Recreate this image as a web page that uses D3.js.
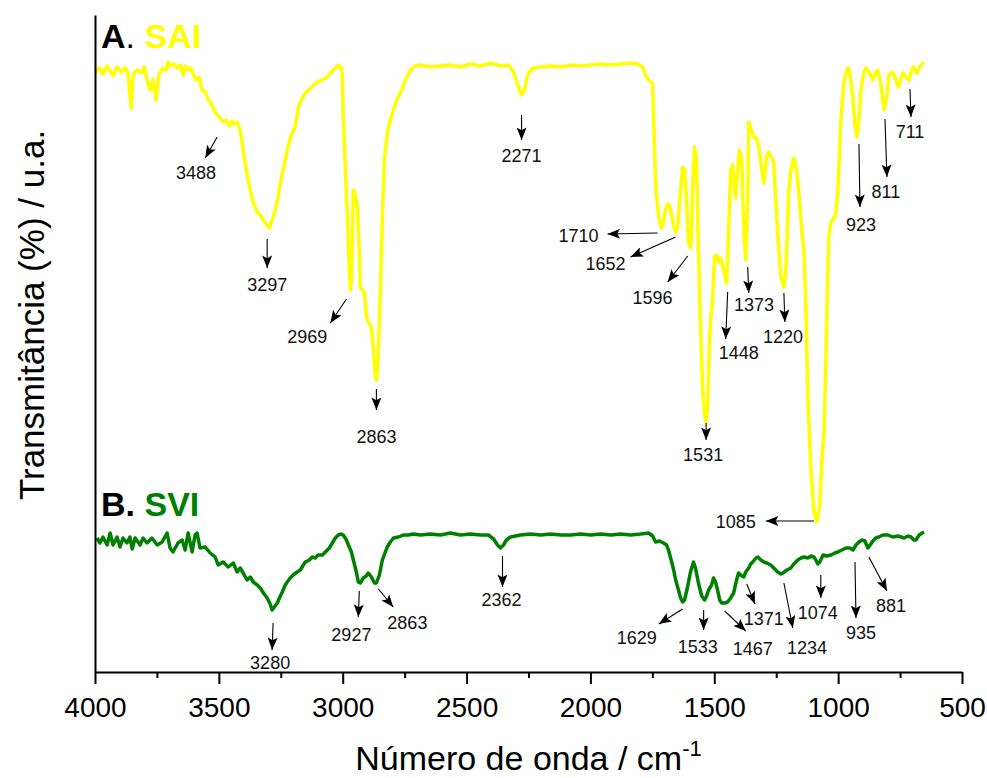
<!DOCTYPE html>
<html>
<head>
<meta charset="utf-8">
<script src="https://cdn.jsdelivr.net/npm/d3@7"></script>
<style>
  body { margin: 0; background: #fff; }
  svg { display: block; font-family: "Liberation Sans", Arial, sans-serif; }
</style>
</head>
<body>
<div id="chart"></div>
<script>
// FTIR spectra, wavenumber (cm-1) vs transmittance (a.u., offset)
var saiWn = [4000,3984,3968,3952,3935,3927,3911,3895,3879,3867,3854,3846,3830,3814,3802,3790,3778,3766,3753,3745,
  3737,3725,3713,3705,3693,3681,3669,3656,3644,3636,3624,3612,3604,3592,3580,3568,3555,3543,3531,3519,
  3507,3495,3483,3471,3458,3446,3438,3426,3414,3402,3382,3361,3345,3333,3321,3309,3297,3285,3272,3260,
  3252,3236,3224,3208,3192,3179,3163,3151,3131,3103,3082,3062,3046,3030,3018,3006,3002,2998,2989,2981,
  2973,2969,2965,2957,2949,2941,2933,2929,2921,2913,2905,2897,2884,2876,2868,2863,2856,2848,2840,2832,
  2820,2808,2795,2779,2767,2747,2727,2707,2686,2646,2606,2565,2525,2484,2444,2403,2363,2331,2310,2294,
  2278,2266,2254,2234,2201,2161,2120,2080,2040,1999,1959,1918,1878,1838,1809,1789,1777,1761,1749,1745,
  1741,1737,1729,1721,1713,1705,1697,1688,1680,1672,1664,1656,1648,1636,1628,1620,1612,1604,1596,1592,
  1588,1580,1572,1564,1555,1547,1539,1533,1527,1519,1515,1507,1499,1491,1483,1475,1467,1450,1442,1434,
  1426,1418,1414,1406,1398,1389,1381,1373,1365,1361,1353,1341,1329,1320,1308,1300,1288,1280,1268,1260,
  1252,1240,1232,1219,1211,1199,1191,1179,1167,1159,1147,1138,1130,1122,1110,1098,1086,1074,1066,1057,
  1049,1041,1037,1029,1021,1009,1001,997,989,977,965,957,949,940,932,924,916,908,896,888,
  876,860,848,840,827,815,803,795,779,766,758,746,738,726,714,706,698,690,682,673,
  665,653];
var saiT = [60.0,60.4,59.8,60.6,60.0,59.6,60.5,60.0,60.4,59.9,56.4,59.8,60.2,59.9,60.5,59.3,58.2,59.2,57.2,59.4,
  60.0,60.4,60.2,61.0,60.6,60.8,60.4,60.7,59.7,60.6,60.2,60.4,59.8,59.2,59.5,58.2,58.0,57.2,56.9,56.2,
  55.7,55.4,55.0,55.2,54.6,55.1,54.8,55.0,54.2,52.2,49.2,46.9,46.0,45.7,45.2,44.8,44.4,45.2,46.2,47.7,
  48.9,50.7,52.2,53.7,54.5,56.5,57.4,57.9,58.4,59.0,59.2,59.5,60.0,60.4,60.7,60.4,59.9,55.5,50.2,45.5,
  40.2,38.2,39.2,48.2,47.7,46.5,42.2,38.5,38.2,38.0,35.7,35.0,34.5,32.2,29.4,29.2,32.2,38.2,45.5,51.2,
  53.9,55.2,56.2,57.4,57.9,59.2,60.2,60.6,60.7,60.5,60.6,60.7,60.5,60.8,60.6,60.9,60.6,60.7,60.0,58.7,
  57.7,58.2,59.7,60.4,60.5,60.6,60.5,60.7,60.6,60.7,60.8,60.7,60.8,60.9,60.8,60.5,59.6,59.1,58.8,55.5,
  52.2,48.9,46.5,45.0,44.4,45.0,46.2,46.8,46.6,45.7,44.6,44.0,44.4,48.2,50.5,50.2,47.2,43.0,42.4,43.6,
  48.2,52.5,51.2,42.2,34.2,28.2,25.7,25.0,26.7,33.2,35.2,37.2,41.5,41.7,41.0,41.4,40.7,38.9,44.2,50.2,
  50.7,48.2,47.4,50.2,52.2,51.2,44.2,41.2,47.2,55.0,54.4,53.5,53.4,52.5,50.2,48.9,51.7,52.0,51.4,50.9,
  47.2,42.5,39.7,38.5,40.2,48.2,50.2,51.4,50.2,47.9,44.2,42.2,36.2,27.2,20.2,16.2,15.0,16.7,21.2,23.9,
  31.7,40.7,43.7,45.0,45.2,45.9,48.2,50.5,55.2,58.9,60.2,60.4,59.2,57.2,54.7,53.5,55.2,58.2,60.0,60.4,
  60.0,59.2,60.0,60.2,58.7,56.2,57.7,59.7,60.0,59.2,58.5,59.4,59.9,59.5,59.2,60.0,60.5,60.2,59.9,60.4,
  60.7,61.0];

var sviWn = [3992,3980,3968,3951,3939,3927,3911,3899,3887,3871,3859,3850,3838,3818,3806,3790,3770,3749,3729,3709,
  3697,3685,3665,3648,3636,3624,3608,3596,3588,3576,3555,3535,3515,3503,3483,3462,3442,3426,3414,3402,
  3386,3373,3361,3345,3333,3317,3305,3293,3285,3276,3264,3252,3244,3232,3224,3212,3200,3184,3171,3159,
  3151,3135,3123,3111,3099,3082,3070,3054,3042,3030,3018,3006,2998,2985,2977,2965,2957,2945,2937,2929,
  2917,2905,2897,2884,2872,2864,2852,2840,2828,2820,2808,2795,2775,2755,2735,2715,2686,2646,2606,2565,
  2525,2484,2444,2412,2391,2375,2363,2351,2339,2323,2282,2242,2201,2161,2120,2080,2040,1999,1959,1918,
  1878,1838,1797,1765,1749,1737,1721,1705,1693,1685,1672,1664,1656,1648,1636,1628,1620,1608,1596,1584,
  1576,1564,1551,1539,1531,1523,1511,1503,1495,1487,1478,1470,1458,1446,1434,1422,1410,1402,1389,1381,
  1373,1361,1353,1345,1332,1324,1312,1300,1288,1272,1260,1244,1231,1223,1207,1191,1179,1163,1150,1138,
  1122,1110,1098,1090,1082,1074,1061,1045,1029,1013,1001,985,969,953,940,928,916,904,892,880,
  868,860,848,836,819,799,779,758,746,734,718,706,694,686,673,661,653];
var sviT = [13.4,12.9,13.5,12.7,13.9,12.7,13.5,12.5,13.4,12.9,13.5,12.3,13.4,12.7,13.4,12.9,13.4,12.7,13.0,13.9,
  12.4,12.0,12.9,13.2,12.2,13.9,12.0,13.7,13.9,12.4,12.5,11.9,11.5,10.7,11.0,10.5,10.9,10.0,10.4,9.9,
  9.2,9.5,9.0,8.7,8.4,7.8,7.4,6.8,6.2,6.5,6.9,7.6,8.0,8.7,9.0,9.4,9.7,10.0,10.2,10.7,
  11.0,11.2,11.5,11.4,11.7,11.7,12.0,12.4,12.9,13.4,13.7,13.8,13.7,13.2,12.7,12.0,11.2,10.0,9.0,8.9,
  9.4,9.6,9.9,9.5,8.9,8.9,9.7,11.2,12.0,12.5,13.0,13.4,13.5,13.7,13.7,13.8,13.7,13.8,13.7,13.9,
  13.7,13.8,13.7,13.7,13.3,12.7,12.4,12.7,13.2,13.5,13.7,13.8,13.7,13.8,13.7,13.7,13.8,13.7,13.8,13.7,
  13.8,13.7,13.8,13.9,13.6,13.0,13.1,12.9,12.7,12.2,11.0,10.2,9.2,8.5,7.4,7.0,7.2,8.5,10.0,11.0,
  10.4,8.9,7.6,7.2,7.6,8.2,8.7,9.4,9.0,8.2,7.2,6.9,6.9,7.0,7.4,7.9,9.2,9.9,9.6,9.5,
  10.0,10.4,10.8,11.0,11.4,11.5,11.2,11.0,10.9,10.7,10.4,10.0,9.8,9.9,10.2,10.4,10.8,11.2,11.4,11.5,
  11.4,11.6,11.5,11.2,10.8,11.0,11.7,11.6,11.7,11.9,12.0,12.2,12.4,12.4,12.2,12.7,13.0,13.2,13.1,12.4,
  12.8,13.1,13.4,13.5,13.7,13.7,13.5,13.6,13.5,13.4,13.6,13.5,13.2,13.2,13.7,13.9,14.0];

var xTicks = [4000, 3500, 3000, 2500, 2000, 1500, 1000, 500];
var xMinorTicks = [3750, 3250, 2750, 2250, 1750, 1250, 750];

// peak annotations: label, arrow start [wn, T], arrow tip [wn, T], label centre [wn, T]
var saiPeaks = [
  ["3488", [3507, 53.5], [3555, 51.4], [3592, 49.9]],
  ["3297", [3305, 43.3], [3305, 40.4], [3305, 38.7]],
  ["2969", [2985, 37.3], [3050, 34.9], [3143, 33.5]],
  ["2863", [2864, 28.3], [2864, 26.2], [2864, 23.5]],
  ["2271", [2278, 55.7], [2278, 53.2], [2278, 51.6]],
  ["1710", [1729, 43.9], [1931, 43.8], [2048, 43.6]],
  ["1652", [1656, 43.5], [1838, 41.5], [1939, 40.8]],
  ["1596", [1607, 41.6], [1688, 39.0], [1749, 37.4]],
  ["1531", [1533, 24.9], [1533, 23.2], [1545, 21.7]],
  ["1448", [1446, 38.0], [1454, 33.3], [1401, 31.9]],
  ["1373", [1365, 40.5], [1361, 37.9], [1340, 36.7]],
  ["1220", [1219, 37.9], [1215, 35.0], [1223, 33.5]],
  ["1085", [1098, 15.1], [1292, 15.1], [1413, 15.0]],
  ["923", [916, 52.8], [912, 46.5], [908, 44.7]],
  ["811", [811, 55.3], [803, 49.5], [807, 48.0]],
  ["711", [710, 58.3], [706, 55.5], [710, 54.0]]
];
var sviPeaks = [
  ["3280", [3281, 4.9], [3285, 2.2], [3293, 0.9]],
  ["2927", [2933, 8.1], [2937, 5.5], [2965, 3.7]],
  ["2863", [2856, 8.3], [2796, 6.5], [2739, 4.9]],
  ["2362", [2355, 11.6], [2355, 8.5], [2359, 7.2]],
  ["1629", [1628, 6.3], [1724, 4.8], [1813, 3.4]],
  ["1533", [1543, 6.2], [1543, 4.2], [1567, 2.5]],
  ["1467", [1458, 6.1], [1373, 4.1], [1345, 2.3]],
  ["1371", [1369, 8.8], [1336, 6.8], [1300, 5.3]],
  ["1234", [1219, 8.9], [1183, 4.4], [1126, 2.4]],
  ["1074", [1070, 9.7], [1070, 7.4], [1082, 5.9]],
  ["935", [932, 11.0], [928, 5.4], [908, 3.9]],
  ["881", [876, 11.5], [803, 8.1], [787, 6.6]]
];

var width = 987, height = 778;
var margin = {left: 95, right: 25, top: 15, bottom: 106};

var svg = d3.select("#chart").append("svg")
  .attr("width", width)
  .attr("height", height);

var x = d3.scaleLinear().domain([4000, 500]).range([margin.left, width - margin.right]);
var y = d3.scaleLinear().domain([0, 65.7]).range([height - margin.bottom, margin.top]);

var defs = svg.append("defs");
defs.append("marker")
  .attr("id", "head")
  .attr("markerUnits", "userSpaceOnUse")
  .attr("viewBox", "0 0 10 8")
  .attr("refX", 10).attr("refY", 4)
  .attr("markerWidth", 14).attr("markerHeight", 10)
  .attr("orient", "auto")
  .append("path")
  .attr("d", "M0,0 L10,4 L0,8 L2.2,4 Z")
  .attr("fill", "#000");

var line = d3.line()
  .x(function (d) { return x(d[0]); })
  .y(function (d) { return y(d[1]); });

function drawSpectrum(wn, t, color) {
  svg.append("path")
    .datum(d3.zip(wn, t))
    .attr("fill", "none")
    .attr("stroke", color)
    .attr("stroke-width", 3.5)
    .attr("stroke-linejoin", "round")
    .attr("d", line);
}

drawSpectrum(saiWn, saiT, "#ffff00");
drawSpectrum(sviWn, sviT, "#008000");

function drawPeaks(peaks) {
  var g = svg.append("g");
  peaks.forEach(function (p) {
    g.append("line")
      .attr("x1", x(p[1][0])).attr("y1", y(p[1][1]))
      .attr("x2", x(p[2][0])).attr("y2", y(p[2][1]))
      .attr("stroke", "#000")
      .attr("stroke-width", 1.1)
      .attr("marker-end", "url(#head)");
    g.append("text")
      .attr("x", x(p[3][0]))
      .attr("y", y(p[3][1]))
      .attr("dy", "0.36em")
      .attr("text-anchor", "middle")
      .attr("font-size", 18)
      .attr("fill", "#111")
      .text(p[0]);
  });
}
drawPeaks(saiPeaks);
drawPeaks(sviPeaks);

// axes
var xAxis = svg.append("g")
  .attr("transform", "translate(0," + y(0) + ")")
  .call(d3.axisBottom(x).tickValues(xTicks).tickSize(12).tickSizeOuter(0).tickPadding(13)
    .tickFormat(d3.format("d")));
xAxis.selectAll("text").attr("font-size", 28).attr("fill", "#000")
  .attr("font-family", "Liberation Sans, Arial, sans-serif");

var xMinor = svg.append("g")
  .attr("transform", "translate(0," + y(0) + ")")
  .call(d3.axisBottom(x).tickValues(xMinorTicks).tickSize(6).tickSizeOuter(0).tickFormat(""));
xMinor.select(".domain").remove();

var yAxis = svg.append("g")
  .attr("transform", "translate(" + margin.left + ",0)")
  .call(d3.axisLeft(y).tickValues([]).tickSizeOuter(0));

svg.selectAll(".domain, .tick line").attr("stroke", "#000").attr("stroke-width", 2);

// titles
var tA = svg.append("text").attr("x", 101).attr("y", 48)
  .attr("font-size", 34).attr("font-weight", "bold");
tA.append("tspan").attr("fill", "#000").text("A");
tA.append("tspan").attr("fill", "#000").attr("font-weight", "normal").text(". ");
tA.append("tspan").attr("fill", "#ffff00").text("SAI");

var tB = svg.append("text").attr("x", 101).attr("y", 516)
  .attr("font-size", 34).attr("font-weight", "bold");
tB.append("tspan").attr("fill", "#000").text("B. ");
tB.append("tspan").attr("fill", "#008000").text("SVI");

var xt = svg.append("text")
  .attr("x", (x(4000) + x(500)) / 2)
  .attr("y", 770)
  .attr("text-anchor", "middle")
  .attr("font-size", 34)
  .attr("fill", "#000");
xt.append("tspan").text("Número de onda / cm");
xt.append("tspan").attr("font-size", 22).attr("dy", -14).text("-1");

svg.append("text")
  .attr("transform", "translate(44," + 315 + ") rotate(-90)")
  .attr("text-anchor", "middle")
  .attr("font-size", 35)
  .attr("fill", "#000")
  .text("Transmitância (%) / u.a.");
</script>
</body>
</html>
